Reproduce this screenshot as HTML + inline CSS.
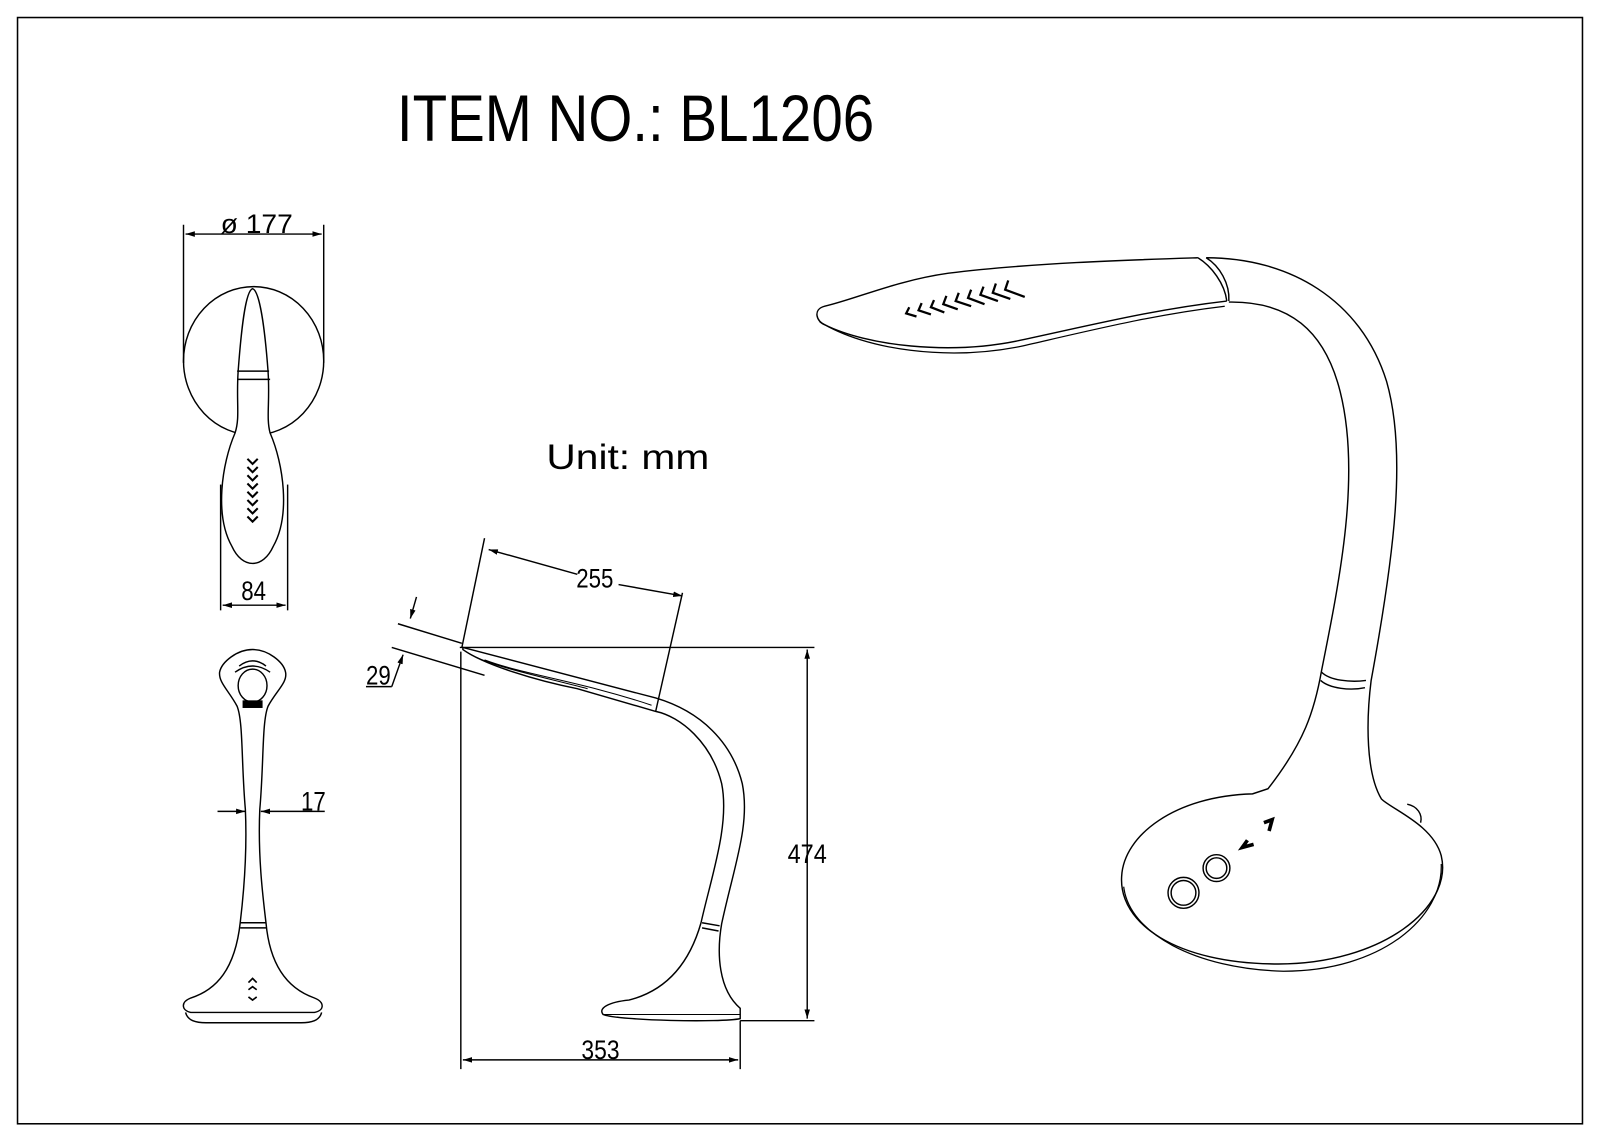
<!DOCTYPE html>
<html><head><meta charset="utf-8"><style>
html,body{margin:0;padding:0;background:#fff;}
svg{display:block;}
text{font-family:"Liberation Sans",sans-serif;fill:#000;}
</style></head><body>
<svg width="1600" height="1131" viewBox="0 0 1552 1097" preserveAspectRatio="none" xmlns="http://www.w3.org/2000/svg">
<defs>
<marker id="a" viewBox="0 0 10 10" refX="10" refY="5" markerWidth="9" markerHeight="9" orient="auto-start-reverse" markerUnits="userSpaceOnUse"><path d="M0,2 L10,5 L0,8 z" fill="#000"/></marker>
</defs>
<rect x="17" y="17" width="1518" height="1073" fill="none" stroke="#000" stroke-width="1.5"/>
<text x="385" y="137" font-size="64" textLength="463" lengthAdjust="spacingAndGlyphs">ITEM NO.: BL1206</text>
<text x="530" y="455" font-size="34" textLength="158" lengthAdjust="spacingAndGlyphs">Unit: mm</text>

<g fill="none" stroke="#000" stroke-width="1.4">
<!-- top view -->
<line x1="178" y1="218" x2="178" y2="352"/><line x1="314" y1="218" x2="314" y2="352"/>
<line x1="180" y1="227" x2="312" y2="227" marker-start="url(#a)" marker-end="url(#a)"/>
<ellipse cx="246" cy="350" rx="68" ry="72"/>
<path d="M245,280 C238,282 234,320 231,360 C229,390 233,405 228,420 C215,450 208,500 225,530 C235,552 255,552 265,530 C282,500 275,450 262,420 C258,405 262,390 260,360 C257,320 252,282 245,280 Z" fill="#fff"/>
<line x1="230" y1="360" x2="261" y2="360"/><line x1="230" y1="368" x2="262" y2="368"/>
<path d="M240,445 l5,5 l5,-5 M240,453 l5,5 l5,-5 M240,461 l5,5 l5,-5 M240,469 l5,5 l5,-5 M240,477 l5,5 l5,-5 M240,485 l5,5 l5,-5 M240,493 l5,5 l5,-5 M240,501 l5,5 l5,-5" stroke-width="2"/>
<line x1="214" y1="470" x2="214" y2="592"/><line x1="279" y1="470" x2="279" y2="592"/>
<line x1="216" y1="587" x2="277" y2="587" marker-start="url(#a)" marker-end="url(#a)"/>

<!-- front view -->
<path d="M245,630 C230,630 215,642 213,652 C212,662 222,670 230,685 C236,700 234,740 238,785 C240,830 236,870 233,895 C228,940 210,960 185,968 C175,972 176,980 185,982 L305,982 C315,980 315,972 305,968 C282,960 262,940 258,895 C255,870 250,830 252,785 C256,740 254,700 260,685 C268,670 279,662 277,652 C275,642 260,630 245,630 Z"/>
<path d="M180,982 C182,990 190,992 200,992 L292,992 C302,992 310,990 312,982"/>
<line x1="233" y1="895" x2="258" y2="895"/><line x1="233" y1="900" x2="258" y2="900"/>
<ellipse cx="245" cy="665" rx="14" ry="16"/>
<path d="M232,646 Q245,636 258,646 M228,652 Q245,640 262,652"/>
<rect x="236" y="680" width="18" height="6" fill="#000"/>
<path d="M241,953 l4,-4 l4,4 M241,960 l4,-3 l4,3 M241,967 l4,3 l4,-3" stroke-width="1.6"/>
<line x1="211" y1="787" x2="238" y2="787" marker-end="url(#a)"/>
<line x1="315" y1="787" x2="253" y2="787" marker-end="url(#a)"/>

<!-- side view -->
<line x1="446" y1="628" x2="790" y2="628"/>
<line x1="718" y1="990" x2="790" y2="990"/>
<line x1="783" y1="630" x2="783" y2="988" marker-start="url(#a)" marker-end="url(#a)"/>
<line x1="447" y1="632" x2="447" y2="1037"/>
<line x1="718" y1="990" x2="718" y2="1037"/>
<line x1="449" y1="1028" x2="716" y2="1028" marker-start="url(#a)" marker-end="url(#a)"/>
<line x1="448" y1="628" x2="470" y2="522"/>
<line x1="636" y1="690" x2="662" y2="575"/>
<line x1="600" y1="567" x2="662" y2="578" marker-end="url(#a)"/>
<line x1="560" y1="557" x2="474" y2="533" marker-end="url(#a)"/>
<line x1="386" y1="605" x2="448" y2="624"/>
<line x1="380" y1="628" x2="470" y2="655"/>
<line x1="404" y1="579" x2="398" y2="600" marker-end="url(#a)"/>
<line x1="380" y1="666" x2="391" y2="635" marker-end="url(#a)"/>
<line x1="355" y1="666" x2="380" y2="666"/>
<path d="M449,628 L636,677 C680,690 710,720 720,760 C728,800 712,840 700,896 C695,925 697,960 718,978 L718,988 C700,992 600,990 585,984 C580,978 590,972 610,970 C650,960 670,930 680,895 C690,850 708,800 700,760 C690,720 660,695 636,690 L560,668 C520,660 470,645 449,630 Z"/>
<path d="M452,632 C470,645 520,655 570,668 M470,640 C510,655 560,660 632,684" stroke-width="1"/>
<line x1="681" y1="895" x2="698" y2="898"/><line x1="681" y1="900" x2="697" y2="903"/>
<line x1="585" y1="984" x2="718" y2="984" stroke-width="1"/>

<!-- perspective view -->
<path d="M1162,250 C1100,252 1000,255 920,265 C870,272 830,290 800,297 C788,300 792,312 800,315 C840,335 920,345 990,330 C1060,315 1120,300 1190,292"/>
<path d="M795,312 C840,340 920,350 990,336 C1060,320 1120,305 1188,297" stroke-width="1.2"/>
<path d="M1162,250 C1175,258 1188,275 1190,292 M1170,250 C1183,258 1193,275 1192,292"/>
<path d="M1170,250 C1250,250 1320,290 1345,370 C1365,440 1352,540 1330,660 C1325,700 1325,750 1340,775 C1350,785 1390,800 1398,830 C1410,880 1340,935 1240,935 C1140,935 1085,895 1088,850 C1090,810 1140,772 1215,770 L1230,765 C1265,720 1275,690 1282,650 C1300,560 1320,460 1300,380 C1285,320 1250,292 1192,293"/>
<path d="M1090,860 C1095,905 1160,940 1245,942 C1340,942 1400,890 1398,838" stroke-width="1.2"/>
<path d="M1282,652 C1290,660 1310,662 1325,660 M1281,660 C1290,668 1310,670 1324,667"/>
<path d="M1365,780 C1375,782 1380,790 1378,798"/>
<circle cx="1148" cy="866" r="15"/><circle cx="1148" cy="866" r="12"/>
<circle cx="1180" cy="842" r="13"/><circle cx="1180" cy="842" r="10"/>
<path d="M1210,815 l-5,7 l11,-3 M1226,798 l8,-3 l-3,11" stroke-width="3.5"/>
<g stroke-width="2.2">
<path d="M882,298 l-3,6 l10,3"/>
<path d="M894,294 l-3,7 l12,4"/>
<path d="M906,291 l-3,7 l13,5"/>
<path d="M918,287 l-3,8 l14,5"/>
<path d="M930,284 l-3,8 l15,5"/>
<path d="M942,281 l-3,8 l16,6"/>
<path d="M954,278 l-3,8 l17,6"/>
<path d="M966,275 l-3,9 l17,6"/>
<path d="M978,272 l-3,9 l19,7"/>
</g>
</g>

<g font-size="26">
<text x="214" y="226" textLength="70" lengthAdjust="spacingAndGlyphs">ø 177</text>
<text x="234" y="582" textLength="24" lengthAdjust="spacingAndGlyphs">84</text>
<text x="292" y="786" textLength="24" lengthAdjust="spacingAndGlyphs">17</text>
<text x="559" y="570" textLength="36" lengthAdjust="spacingAndGlyphs">255</text>
<text x="355" y="664" textLength="24" lengthAdjust="spacingAndGlyphs">29</text>
<text x="764" y="837" textLength="38" lengthAdjust="spacingAndGlyphs">474</text>
<text x="564" y="1027" textLength="37" lengthAdjust="spacingAndGlyphs">353</text>
</g>
</svg>
</body></html>
